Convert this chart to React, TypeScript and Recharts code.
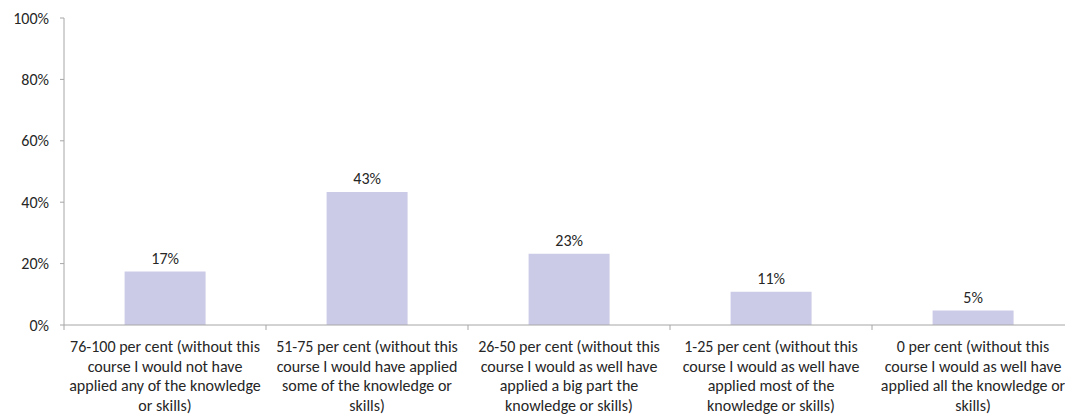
import { BarChart, Bar, XAxis, YAxis, LabelList } from 'recharts'

const categories = [
  '76-100 per cent (without this\ncourse I would not have\napplied any of the knowledge\nor skills)',
  '51-75 per cent (without this\ncourse I would have applied\nsome of the knowledge or\nskills)',
  '26-50 per cent (without this\ncourse I would as well have\napplied a big part the\nknowledge or skills)',
  '1-25 per cent (without this\ncourse I would as well have\napplied most of the\nknowledge or skills)',
  '0 per cent (without this\ncourse I would as well have\napplied all the knowledge or\nskills)',
]
const shares = [17.4, 43.3, 23.2, 10.8, 4.7]
const yTicks = [0, 20, 40, 60, 80, 100]

const data = categories.map((name, i) => ({ name, share: shares[i] }))

const CHART_W = 1080
const CHART_H = 416
const MARGIN = { top: 18, right: 6, bottom: 0, left: 0 }
const Y_AXIS_W = 64
const X_AXIS_H = 91
const BAND = (CHART_W - MARGIN.left - MARGIN.right - Y_AXIS_W) / categories.length

const AXIS = '#A6A6A6'
const TEXT = '#262626'
const FONT = 'Carlito, Calibri, Lato, sans-serif'
const FS = 16

function CategoryTick(props: any) {
  const { x, y, payload, index } = props
  const lines = String(payload.value).split('\n')
  const left = x - BAND / 2
  return (
    <g>
      <line x1={left} x2={left} y1={y} y2={y + 5} stroke={AXIS} />
      {index === categories.length - 1 && (
        <line x1={left + BAND} x2={left + BAND} y1={y} y2={y + 5} stroke={AXIS} />
      )}
      <text x={x} y={y + 27} textAnchor="middle" fill={TEXT} fontSize={FS} fontFamily={FONT}>
        {lines.map((line, i) => (
          <tspan key={i} x={x} dy={i === 0 ? 0 : 19.6}>
            {line}
          </tspan>
        ))}
      </text>
    </g>
  )
}

export default function App() {
  return (
    <div style={{ position: 'absolute', left: 0, top: 0, width: 1065, height: CHART_H, overflow: 'hidden', background: '#fff' }}>
      <BarChart width={CHART_W} height={CHART_H} data={data} margin={MARGIN} barCategoryGap="30%">
        <XAxis
          dataKey="name"
          interval={0}
          height={X_AXIS_H}
          stroke={AXIS}
          tickLine={false}
          tickSize={0}
          tickMargin={0}
          tick={<CategoryTick />}
        />
        <YAxis
          domain={[0, 100]}
          ticks={yTicks}
          width={Y_AXIS_W}
          stroke={AXIS}
          tickSize={4}
          tickMargin={11}
          tickFormatter={(v) => `${v}%`}
          tick={{ fill: TEXT, fontSize: FS, fontFamily: FONT }}
        />
        <Bar dataKey="share" fill="#CBCBE8" isAnimationActive={false}>
          <LabelList
            dataKey="share"
            position="top"
            offset={8}
            formatter={(v: any) => `${Math.round(Number(v))}%`}
            fill={TEXT}
            fontSize={FS}
            fontFamily={FONT}
          />
        </Bar>
      </BarChart>
    </div>
  )
}
